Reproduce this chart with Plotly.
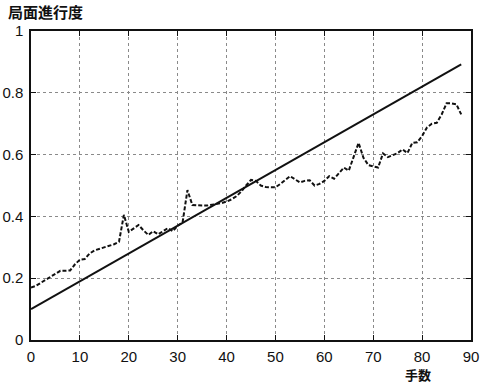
import plotly.graph_objects as go

# Move number (手数) for the evaluated progress series
moves = list(range(0, 89))
# Estimated game progress (局面進行度) per move
progress = [
    0.170, 0.175, 0.185, 0.195, 0.205, 0.215, 0.224, 0.224, 0.225, 0.245,
    0.260, 0.262, 0.280, 0.290, 0.295, 0.300, 0.305, 0.310, 0.318, 0.405,
    0.350, 0.360, 0.372, 0.355, 0.340, 0.352, 0.342, 0.352, 0.362, 0.352,
    0.370, 0.380, 0.485, 0.437, 0.435, 0.435, 0.435, 0.437, 0.441, 0.443,
    0.448, 0.455, 0.465, 0.480, 0.500, 0.518, 0.515, 0.500, 0.495, 0.494,
    0.494, 0.505, 0.518, 0.530, 0.520, 0.510, 0.515, 0.517, 0.500, 0.505,
    0.515, 0.530, 0.522, 0.540, 0.558, 0.548, 0.590, 0.638, 0.590, 0.566,
    0.562, 0.558, 0.604, 0.592, 0.598, 0.605, 0.617, 0.605, 0.638, 0.640,
    0.660, 0.688, 0.700, 0.703, 0.730, 0.766, 0.766, 0.763, 0.730,
]

# Linear reference progress line
ref_moves = [0, 88]
ref_progress = [0.10, 0.892]

x_ticks = [0, 10, 20, 30, 40, 50, 60, 70, 80, 90]
y_ticks = [0, 0.2, 0.4, 0.6, 0.8, 1]
y_tick_text = ["0", "0.2", "0.4", "0.6", "0.8", "1"]

fig = go.Figure()
fig.add_trace(go.Scatter(
    x=ref_moves, y=ref_progress, mode="lines",
    line=dict(color="#111111", width=2), showlegend=False,
))
fig.add_trace(go.Scatter(
    x=moves, y=progress, mode="lines",
    line=dict(color="#111111", width=2, dash="4px,2px"), showlegend=False,
))

axis_common = dict(
    showline=True, linecolor="#111111", linewidth=1.5, mirror="ticks",
    ticks="inside", ticklen=5, tickcolor="#111111", tickwidth=1,
    showgrid=True, gridcolor="#8a8a8a", gridwidth=1, griddash="dot",
    zeroline=False, automargin=False,
    tickfont=dict(family="Liberation Sans, Arial, sans-serif", size=15, color="#111111"),
)

fig.update_xaxes(range=[0, 90], tickvals=x_ticks, ticklabelstandoff=2, **axis_common)
fig.update_yaxes(range=[0, 1], tickvals=y_ticks, ticktext=y_tick_text,
                 ticklabelstandoff=3, **axis_common)

fig.add_annotation(text="<b>局面進行度</b>", xref="paper", yref="paper",
                   x=-0.056, y=1.062, xanchor="left", yanchor="middle",
                   showarrow=False,
                   font=dict(family="Noto Sans CJK JP, sans-serif", size=15, color="#111111"))
fig.add_annotation(text="<b>手数</b>", xref="paper", yref="paper",
                   x=0.8795, y=-0.113, xanchor="center", yanchor="middle",
                   showarrow=False, borderpad=0,
                   font=dict(family="Noto Sans CJK JP, sans-serif", size=13, color="#111111"))

fig.update_layout(
    width=480, height=383,
    margin=dict(l=31, r=9, t=31, b=43),
    paper_bgcolor="white", plot_bgcolor="white",
)

fig.write_html("out.html")
